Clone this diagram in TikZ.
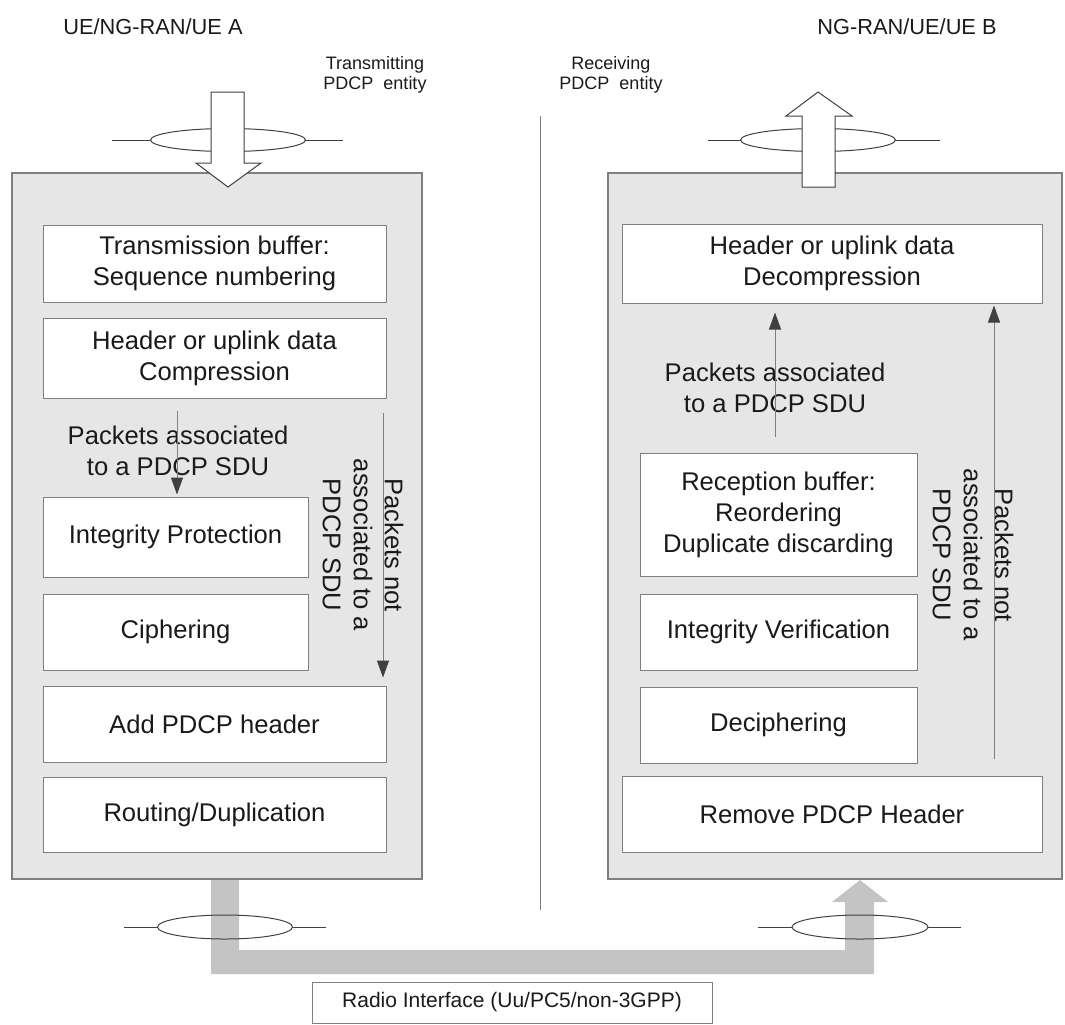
\documentclass[tikz,border=0pt]{standalone}
\usepackage{fontspec}
\setmainfont{Liberation Sans}
\usetikzlibrary{arrows.meta}
\definecolor{panelgray}{HTML}{E6E6E6}
\definecolor{edgegray}{HTML}{7F7F7F}
\definecolor{pipegray}{HTML}{C4C4C4}
\definecolor{headgray}{HTML}{404040}
\definecolor{inkgray}{HTML}{1A1A1A}
\begin{document}
\begin{tikzpicture}[x=0.5pt,y=-0.5pt,
  panel/.style={draw=edgegray, fill=panelgray, line width=0.6pt},
  blk/.style={draw=edgegray, fill=white, line width=0.5pt, inner sep=0pt,
    align=center, text=inkgray, font=\fontsize{12.8}{15.5}\selectfont},
  wh/.style 2 args={minimum width=#1*0.5pt, minimum height=#2*0.5pt},
  lbl/.style={align=center, inner sep=0pt, text=inkgray, font=\fontsize{12.8}{15.5}\selectfont},
  pkt/.style={draw=edgegray, line width=0.5pt, -{Triangle[length=8.5pt,width=6pt,color=headgray]}},
  ring/.style={draw=headgray, line width=0.5pt},
  bigarrow/.style={draw=headgray, fill=white, line width=0.5pt}]
\useasboundingbox (0,0) rectangle (1065,1024);

% Entity labels
\node[lbl, font=\fontsize{10.9}{13}\selectfont] (ueA) at (153,27) {UE/NG-RAN/UE A};
\node[lbl, font=\fontsize{10.9}{13}\selectfont] (ueB) at (907,27) {NG-RAN/UE/UE B};
\node[lbl, font=\fontsize{9}{10}\selectfont] (txent) at (375,75) {Transmitting\\PDCP\ \ entity};
\node[lbl, font=\fontsize{9}{10}\selectfont] (rxent) at (611,75) {Receiving\\PDCP\ \ entity};
\draw[edgegray, line width=0.5pt] (540,116) -- (540,910);

% Bottom pipe to the radio interface
\fill[pipegray] (211,879) -- (239,879) -- (239,950) -- (845,950) -- (845,902) -- (832,902)
  -- (860,880) -- (888,902) -- (874,902) -- (874,974) -- (211,974) -- cycle;
\draw[ring] (124,927) -- (158,927) (293,927) -- (326,927);
\draw[ring] (225,927) ellipse [x radius=67.5, y radius=12];
\draw[ring] (758,927) -- (792,927) (928,927) -- (961,927);
\draw[ring] (860,927) ellipse [x radius=68, y radius=12];
\node[blk, wh={400}{41}, font=\fontsize{10.5}{13}\selectfont] (radio) at (512,1002.5) {Radio Interface (Uu/PC5/non-3GPP)};

% Transmitting side
\draw[panel] (12,173) rectangle (422,879);
\draw[ring] (112,140) -- (150,140) (305,140) -- (343,140);
\draw[ring] (228,140) ellipse [x radius=77.5, y radius=11.5];
\draw[bigarrow] (211,92) -- (244,92) -- (244,163) -- (261,163) -- (228,187) -- (196,163) -- (211,163) -- cycle;
\node[blk, wh={343}{77}] (txbuf) at (214.5,263.5) {Transmission buffer:\\Sequence numbering};
\node[blk, wh={343}{80}] (comp) at (214.5,358) {Header or uplink data\\Compression};
\node[blk, wh={265}{80}] (intp) at (175.5,537) {Integrity Protection};
\node[blk, wh={265}{76}] (ciph) at (175.5,632) {Ciphering};
\node[blk, wh={343}{76}] (addh) at (214.5,724) {Add PDCP header};
\node[blk, wh={343}{75}] (route) at (214.5,814.5) {Routing/Duplication};
\node[lbl] (pktA) at (178,451) {Packets associated\\to a PDCP SDU};
\node[lbl, rotate=-90] (npktA) at (363,545) {Packets not\\associated to a\\PDCP SDU};
\coordinate (aL) at (177,0);
\coordinate (aR) at (383,0);
\draw[pkt] ([yshift=-6pt]comp.south -| aL) -- ([yshift=1pt]intp.north -| aL);
\draw[pkt] ([yshift=-7pt]comp.south -| aR) -- ([yshift=4pt]addh.north -| aR);

% Receiving side
\draw[panel] (608,173) rectangle (1062,879);
\draw[ring] (708,140) -- (741,140) (896,140) -- (940,140);
\draw[ring] (818,140) ellipse [x radius=77.5, y radius=11.5];
\draw[bigarrow] (802,187) -- (835,187) -- (835,116) -- (852,116) -- (818,92) -- (786,116) -- (802,116) -- cycle;
\node[blk, wh={420}{79}] (decomp) at (832,263.5) {Header or uplink data\\Decompression};
\node[blk, wh={277}{123}] (rxbuf) at (778.5,514.5) {Reception buffer:\\Reordering\\Duplicate discarding};
\node[blk, wh={277}{76}] (intv) at (778.5,632) {Integrity Verification};
\node[blk, wh={277}{76}] (deciph) at (778.5,725) {Deciphering};
\node[blk, wh={420}{76}] (remh) at (832,814) {Remove PDCP Header};
\node[lbl] (pktB) at (775,388) {Packets associated\\to a PDCP SDU};
\node[lbl, rotate=-90] (npktB) at (973,555) {Packets not\\associated to a\\PDCP SDU};
\coordinate (bL) at (775,0);
\coordinate (bR) at (994,0);
\draw[pkt] ([yshift=8pt]rxbuf.north -| bL) -- ([yshift=-4.5pt]decomp.south -| bL);
\draw[pkt] ([yshift=2.5pt]deciph.south -| bR) -- ([yshift=-1pt]decomp.south -| bR);
\end{tikzpicture}
\end{document}
